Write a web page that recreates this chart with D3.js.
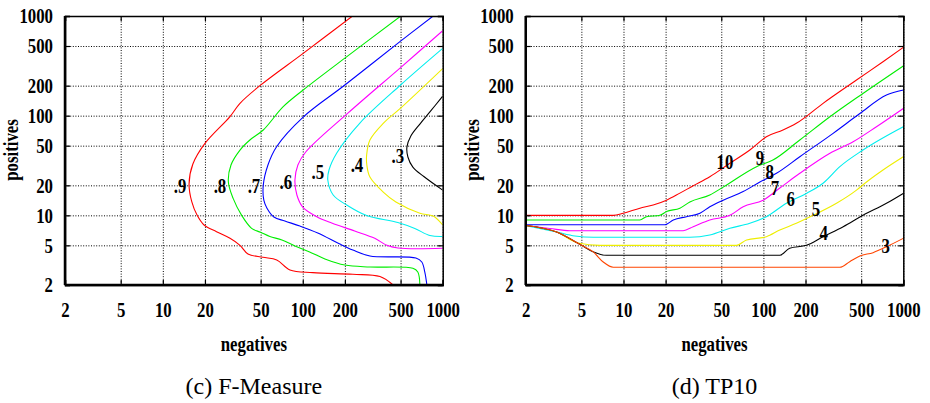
<!DOCTYPE html>
<html>
<head>
<meta charset="utf-8">
<script src="https://cdn.jsdelivr.net/npm/d3@7"></script>
<style>
  body { margin: 0; background: #fff; }
  svg { display: block; }
</style>
</head>
<body>
<div id="chart"></div>
<script>
// Tick values shared by both log axes
const tickValues = [2, 5, 10, 20, 50, 100, 200, 500, 1000];

// (c) F-Measure contours, points are [negatives, positives]
const fm9 = [[227,1000],[100.7,422],[49.4,200],[35.6,133],[30.2,98],[20,52.7],[16.4,32.7],[15.4,20.6],[16.1,13.7],[17.6,10],[19.7,8],[24.2,6.85],[30.2,5.88],[35.6,5],[40.6,4.09],[51.9,3.79],[65.2,3.56],[81,2.83],[118,2.66],[228,2.56],[356,2.43],[442,2]];
const fm8 = [[502,1000],[200,378],[100.7,181],[72.5,123],[52.2,71.8],[41.9,57],[35.6,45.2],[30.7,32],[29.4,21.6],[31.8,14.8],[36.6,10],[43.1,7.41],[50,6.76],[58.2,6.13],[71,5.66],[87.9,4.92],[112,4.29],[144,3.65],[200,3.17],[302,3.03],[612,2.94],[664,2.7],[687,2]];
const fm7 = [[855,1000],[500,560],[200,203],[100.7,96.8],[65,48.8],[56.4,32],[52.2,20],[52.7,14.2],[55.5,11.8],[62.2,9.62],[74.5,8.77],[95.4,7.81],[128,6.65],[184,5.15],[228,4.49],[302,3.91],[643,3.73],[709,3.4],[745,2.7],[771,2]];
const fm6 = [[1000,711],[500,304],[210,106],[105,43.2],[92.3,32],[87.9,22.6],[90.8,16],[100,12.1],[126,9.69],[161,8.37],[235,6.96],[327,5.88],[399,5],[478,4.7],[1000,4.67]];
const fm5 = [[1000,473],[500,203],[256,84.3],[175,42.2],[154,28.5],[151,22.6],[165,16],[206,12.7],[286,9.95],[478,8.47],[632,7.38],[810,6.27],[1000,6.13]];
const fm4 = [[1000,297],[500,119],[376,83.8],[302,57],[286,40.2],[287,32],[302,24.2],[376,17.1],[463,13.6],[687,10.5],[855,9.84],[1000,8]];
const fm3 = [[1000,157],[810,109],[687,82.4],[592,62.4],[555,48.4],[564,38.5],[612,30.5],[733,24.5],[1000,17.9]];
const fmNames = [".9", ".8", ".7", ".6", ".5", ".4", ".3"];
const fmLabelPos = [[13.3,20],[25.6,20],[44.8,20],[75.8,21.6],[128,27.2],[244,32],[478,39.4]];

// (d) TP10 contours
const tp10 = [[2,10],[8.45,10],[9.96,10.5],[13.1,11.8],[16.3,12.7],[20.3,14.2],[25.3,16.7],[31.3,19.7],[41.4,24.4],[57.6,33.3],[80,45.2],[105,61.4],[138,71.8],[172,83.8],[267,133],[463,228],[716,348],[1000,484]];
const tp9 = [[2,8.98],[13.1,8.98],[14.6,9.69],[18.2,10],[20.3,10.9],[25.3,11.8],[29.8,13.6],[41.4,16],[51.6,19.2],[89.3,30.8],[117,35.9],[182,57],[299,97.5],[515,167],[1000,315]];
const tp8 = [[2,8.05],[19.8,8.05],[22.7,8.98],[28.2,9.69],[35.2,10.5],[41.4,12.2],[51.6,14.2],[71.7,17.3],[94.4,21.6],[124,26.4],[182,38.7],[315,66.5],[489,105],[758,161],[1000,181]];
const tp7 = [[2,7.91],[2.98,7.38],[4.14,7.01],[26.7,7.01],[31.5,7.69],[41.4,8.98],[57.6,10],[71.7,12.2],[99.6,14.2],[131,18.8],[182,26.4],[299,41.9],[438,54.7],[643,77.4],[1000,118]];
const tp6 = [[2,7.91],[3.33,6.8],[4.5,6.2],[6.08,6.02],[29.8,6.02],[41.4,6.35],[57.6,7.41],[80,8.32],[105,9.69],[146,13.2],[203,16.6],[267,21],[352,30.8],[515,45.2],[1000,77.4]];
const tp5 = [[2,7.91],[3.33,6.8],[4.73,5.28],[6.79,5],[64.3,5],[75.8,5.66],[105,6.1],[131,7.12],[172,8.32],[227,10],[333,13.2],[463,17.9],[546,21.6],[716,28.5],[1000,38.7]];
const tp4 = [[2,7.91],[3.33,6.8],[5.02,5],[6.05,4.32],[7.58,3.97],[131,3.97],[154,4.67],[203,5],[267,6.1],[372,7.69],[515,10],[758,13.2],[1000,16.6]];
const tp3 = [[2,7.91],[3.33,6.8],[5.02,5],[6.05,4.32],[7.17,3.4],[8.45,3.01],[352,3.01],[414,3.43],[489,3.91],[608,4.22],[758,4.84],[1000,5.88]];
const tpNames = ["10", "9", "8", "7", "6", "5", "4", "3"];
const tpLabelPos = [[53.1,34.3],[94.4,37.6],[111,27.6],[121,18.9],[157,14.6],[237,11.8],[270,6.65],[750,4.92]];

const W = 930, H = 403;
const svg = d3.select("#chart").append("svg")
  .attr("width", W)
  .attr("height", H);

const serif = "'Liberation Serif', 'Times New Roman', Times, serif";
const squeeze = 0.8;   // gnuplot labels are narrower than Times
const labelSize = 21;

function drawPanel(opt) {
  const x = d3.scaleLog().domain([2, 1000]).range([opt.left, opt.right]);
  const y = d3.scaleLog().domain([2, 1000]).range([285, 16]);
  const g = svg.append("g");

  // dotted grid
  g.append("g")
    .attr("transform", `translate(0,${y(2)})`)
    .call(d3.axisBottom(x).tickValues(tickValues).tickSize(-(y(2) - y(1000))).tickFormat(""))
    .call(s => s.select(".domain").remove())
    .selectAll("line")
    .attr("stroke", "#000")
    .attr("stroke-dasharray", "1,1.6");
  g.append("g")
    .attr("transform", `translate(${x(2)},0)`)
    .call(d3.axisLeft(y).tickValues(tickValues).tickSize(-(x(1000) - x(2))).tickFormat(""))
    .call(s => s.select(".domain").remove())
    .selectAll("line")
    .attr("stroke", "#000")
    .attr("stroke-dasharray", "1,1.6");

  // contour lines
  const clipId = "clip" + opt.id;
  svg.append("clipPath").attr("id", clipId)
    .append("rect")
    .attr("x", x(2)).attr("y", y(1000))
    .attr("width", x(1000) - x(2)).attr("height", y(2) - y(1000));

  const line = d3.line()
    .x(d => x(d[0]))
    .y(d => y(d[1]))
    .curve(opt.curve);

  g.append("g")
    .attr("clip-path", `url(#${clipId})`)
    .selectAll("path")
    .data(opt.series)
    .join("path")
    .attr("d", line)
    .attr("fill", "none")
    .attr("stroke", (d, i) => opt.colors[i])
    .attr("stroke-width", 1.1);

  // inward ticks on all four sides
  const bottom = g.append("g")
    .attr("transform", `translate(0,${y(2)})`)
    .call(d3.axisBottom(x).tickValues(tickValues).tickSize(-5).tickPadding(17).tickFormat(d3.format("d")));
  const left = g.append("g")
    .attr("transform", `translate(${x(2)},0)`)
    .call(d3.axisLeft(y).tickValues(tickValues).tickSize(-5).tickPadding(12).tickFormat(d3.format("d")));
  g.append("g")
    .attr("transform", `translate(0,${y(1000)})`)
    .call(d3.axisTop(x).tickValues(tickValues).tickSize(-5).tickFormat(""));
  g.append("g")
    .attr("transform", `translate(${x(1000)},0)`)
    .call(d3.axisRight(y).tickValues(tickValues).tickSize(-5).tickFormat(""));

  g.selectAll(".domain").attr("stroke", "#000").attr("stroke-width", 1.5);
  g.selectAll(".tick line").filter(function() { return !this.getAttribute("stroke-dasharray"); })
    .attr("stroke", "#000").attr("stroke-width", 1.2);

  [bottom, left].forEach(ax => ax.selectAll("text")
    .attr("font-family", serif)
    .attr("font-weight", "bold")
    .attr("font-size", labelSize)
    .attr("fill", "#000"));
  bottom.selectAll("text").attr("transform", `scale(${squeeze},1)`);
  left.selectAll("text")
    .attr("x", -12 / squeeze)
    .attr("transform", `scale(${squeeze},1)`);

  // heavier left and bottom edges
  g.append("line")
    .attr("x1", x(2)).attr("x2", x(1000))
    .attr("y1", y(2)).attr("y2", y(2))
    .attr("stroke", "#000").attr("stroke-width", 2.5);
  g.append("line")
    .attr("x1", x(2)).attr("x2", x(2))
    .attr("y1", y(2)).attr("y2", y(1000))
    .attr("stroke", "#000").attr("stroke-width", 2.5);

  // contour level labels
  g.append("g")
    .selectAll("text")
    .data(opt.labels)
    .join("text")
    .attr("transform", d => `translate(${x(d[1][0])},${y(d[1][1])}) scale(${squeeze},1)`)
    .attr("text-anchor", "middle")
    .attr("dy", "0.35em")
    .attr("font-family", serif)
    .attr("font-weight", "bold")
    .attr("font-size", labelSize)
    .attr("fill", "#000")
    .text(d => d[0]);

  // axis titles and caption
  const cx = (x(2) + x(1000)) / 2;
  g.append("text")
    .attr("transform", `translate(${opt.left - 47},150) rotate(-90) scale(${squeeze},1)`)
    .attr("text-anchor", "middle")
    .attr("font-family", serif)
    .attr("font-weight", "bold")
    .attr("font-size", labelSize)
    .text("positives");
  g.append("text")
    .attr("transform", `translate(${cx},351) scale(${squeeze},1)`)
    .attr("text-anchor", "middle")
    .attr("font-family", serif)
    .attr("font-weight", "bold")
    .attr("font-size", labelSize)
    .text("negatives");
  g.append("text")
    .attr("x", cx)
    .attr("y", 394)
    .attr("text-anchor", "middle")
    .attr("font-family", serif)
    .attr("font-size", 24)
    .text(opt.caption);
}

drawPanel({
  id: "fm",
  left: 65, right: 442.7,
  series: [fm9, fm8, fm7, fm6, fm5, fm4, fm3],
  colors: ["#ff0000", "#00ee00", "#0000ff", "#ff00ff", "#00eeee", "#eeee00", "#000000"],
  labels: fmNames.map((n, i) => [n, fmLabelPos[i]]),
  curve: d3.curveCatmullRom.alpha(0.5),
  caption: "(c) F-Measure"
});

drawPanel({
  id: "tp",
  left: 525.7, right: 903.3,
  series: [tp10, tp9, tp8, tp7, tp6, tp5, tp4, tp3],
  colors: ["#ff0000", "#00ee00", "#0000ff", "#ff00ff", "#00eeee", "#eeee00", "#000000", "#ff4500"],
  labels: tpNames.map((n, i) => [n, tpLabelPos[i]]),
  curve: d3.curveMonotoneX,
  caption: "(d) TP10"
});
</script>
</body>
</html>
